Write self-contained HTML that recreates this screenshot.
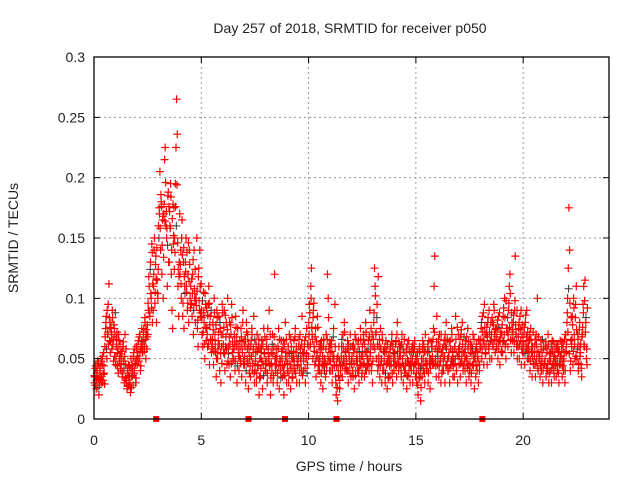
<!DOCTYPE html>
<html><head><meta charset="utf-8"><style>
body{margin:0;background:#fff}
svg{display:block;font-family:"Liberation Sans",sans-serif}
</style></head><body>
<svg id="chart" width="640" height="480" viewBox="0 0 640 480">
<text x="350" y="33" text-anchor="middle" font-size="14" fill="#222">Day 257 of 2018, SRMTID for receiver p050</text>
<text x="349" y="471" text-anchor="middle" font-size="14" fill="#222">GPS time / hours</text>
<text transform="translate(18,238) rotate(-90)" text-anchor="middle" font-size="14" fill="#222">SRMTID / TECUs</text>
<g id="grid"></g><g id="pts"></g><g id="axes"></g>
</svg>
<script>
const xTicks=[0,5,10,15,20];
const yTicks=[0,0.05,0.1,0.15,0.2,0.25,0.3];
const yTickLabels=["0","0.05","0.1","0.15","0.2","0.25","0.3"];
const binStart=0, binWidth=0.25;
const values=[
[30,35,42,25,38,48,33,20],[28,40,50,35,45,32,55,38],[60,75,85,50,70,95,112,65],[55,80,70,90,62,48,75,68],
[45,60,72,55,38,65,50,42],[40,52,35,60,48,30,70,45],[30,25,38,45,28,35,22,50],[35,42,28,55,38,48,30,60],
[45,55,65,50,70,40,60,75],[55,65,75,60,80,50,70,68],[70,90,110,85,130,100,145,80],[90,120,150,105,135,80,115,100],
[160,175,205,140,180,120,165,100],[170,215,225,160,150,110,185,130],[130,160,195,120,90,75,145,175],[150,195,225,265,236,110,85,130],
[120,140,100,165,85,130,75,110],[130,150,105,90,120,80,140,100],[110,95,85,120,70,140,100,80],[100,150,75,60,125,90,110,85],
[90,70,60,105,80,50,95,65],[75,60,95,110,45,85,65,55],[60,80,45,100,70,55,35,90],[50,65,85,40,75,30,60,95],
[70,55,90,40,60,80,45,100],[60,45,80,35,70,95,55,50],[50,70,40,85,60,30,75,55],[40,65,50,75,35,55,90,45],
[45,60,30,80,50,70,25,55],[50,35,65,75,40,55,85,30],[40,55,30,70,45,60,20,50],[35,50,65,25,45,75,55,40],
[40,60,30,75,50,90,45,20],[55,40,70,30,60,120,45,50],[45,30,60,75,25,50,40,65],[50,35,65,20,45,80,55,30],
[40,55,30,70,45,25,60,50],[35,50,65,40,75,55,30,45],[45,60,30,70,50,40,85,55],[40,55,65,30,50,75,45,60],
[80,95,60,110,125,70,50,90],[60,45,75,35,55,85,40,50],[40,55,30,65,45,25,60,50],[50,35,70,45,120,100,60,40],
[55,40,65,30,50,75,45,95],[35,20,50,15,40,60,25,45],[45,60,35,70,50,80,40,55],[50,40,65,30,55,45,70,35],
[45,60,35,55,25,70,40,50],[55,40,65,30,50,75,45,35],[60,45,70,35,55,80,40,50],[50,65,40,90,55,75,45,30],
[60,80,125,110,70,50,95,40],[45,60,35,75,50,30,65,40],[40,55,30,65,45,25,50,35],[50,35,60,45,70,30,55,40],
[55,45,65,35,80,50,40,60],[45,60,35,70,50,30,55,40],[40,55,25,50,35,65,45,30],[50,40,60,30,55,45,65,35],
[45,30,55,20,40,60,35,15],[50,35,65,40,55,30,70,45],[40,55,30,65,45,25,50,60],[60,45,75,110,135,50,35,85],
[45,60,35,70,50,30,55,40],[55,40,65,30,60,80,45,50],[40,55,30,65,45,75,50,35],[50,35,60,85,40,55,30,70],
[45,60,35,70,50,80,40,55],[55,40,65,30,50,75,45,35],[40,55,30,60,45,70,50,25],[50,35,60,40,55,30,65,45],
[60,75,50,85,65,45,95,70],[55,70,45,80,60,90,50,65],[65,50,80,60,95,70,55,75],[60,75,50,85,65,45,70,55],
[70,55,85,65,100,60,50,75],[75,60,90,110,120,65,55,80],[65,80,55,90,135,70,60,50],[60,75,50,85,65,45,70,55],
[55,70,45,80,60,90,50,65],[50,65,40,75,55,35,60,45],[45,60,35,70,50,100,40,55],[50,35,65,40,55,30,60,45],
[45,60,35,55,40,70,30,50],[40,55,30,65,45,50,35,60],[50,35,60,40,55,30,45,65],[45,60,35,50,40,55,30,70],
[55,80,100,125,175,140,40,65],[60,85,45,100,70,50,95,110],[50,70,40,60,80,55,45,35],[70,95,110,60,115,80,50,45]
];
const values2=[
[36,28,44,32,40,26,46,34],[42,33,48,30,52,37,44,29],[68,80,58,90,72,62,84,76],[64,72,58,84,66,78,52,88],
[52,66,44,58,70,48,62,54],[46,56,38,64,42,52,34,58],[32,40,27,36,44,30,42,26],[44,36,52,40,58,46,34,50],
[52,62,48,68,56,44,64,58],[62,72,56,84,66,74,58,78],[96,118,88,124,104,92,138,112],[110,140,96,128,116,142,104,124],
[150,170,158,186,176,144,168,134],[178,164,196,172,158,144,188,176],[172,158,184,140,166,178,152,124],[138,176,160,194,146,124,118,170],
[128,112,150,136,96,142,118,104],[122,110,138,96,146,114,128,92],[96,116,104,132,90,108,124,98],[94,106,82,118,98,140,88,112],
[84,98,72,88,62,104,76,92],[70,86,62,96,78,66,90,58],[66,74,56,88,62,78,50,84],[58,72,62,80,54,70,46,88],
[62,76,54,86,68,58,74,48],[54,68,62,78,46,84,64,58],[58,64,48,76,68,44,62,52],[52,58,46,68,60,80,48,64],
[52,66,40,72,58,46,62,38],[44,60,52,70,46,58,38,66],[48,62,38,56,44,66,34,58],[42,58,48,62,36,54,68,46],
[48,66,38,58,52,44,70,34],[46,62,54,36,68,50,40,58],[52,38,58,44,66,48,34,56],[44,58,40,62,36,52,66,48],
[46,60,38,54,66,42,52,34],[42,56,48,68,38,60,50,44],[52,66,40,58,48,62,36,54],[48,60,42,68,54,38,62,52],
[70,88,62,100,76,66,84,96],[56,68,48,64,52,76,44,60],[48,62,38,58,52,44,66,40],[46,58,40,66,52,84,48,62],
[48,62,56,40,68,52,44,60],[30,44,26,52,36,48,32,40],[52,66,44,60,48,72,56,42],[46,58,40,62,52,38,60,48],
[52,40,62,46,58,36,66,48],[48,62,40,56,44,66,52,38],[52,66,46,62,40,72,56,44],[58,46,68,52,62,40,70,48],
[66,88,58,102,72,84,62,118],[52,66,44,58,48,70,40,56],[48,60,38,56,46,62,34,52],[44,58,50,64,38,60,48,54],
[50,62,44,70,56,46,64,52],[52,40,62,46,58,44,66,38],[46,58,36,62,48,40,56,44],[44,56,50,62,40,58,46,52],
[38,50,28,46,34,56,42,26],[44,58,50,62,38,56,48,42],[46,60,38,56,50,42,64,48],[52,66,46,72,58,44,64,56],
[52,66,44,60,48,70,38,58],[48,62,52,70,44,58,66,40],[52,64,42,58,48,70,56,44],[46,60,50,66,40,76,52,58],
[52,66,46,74,56,62,44,68],[48,60,52,68,42,58,64,40],[46,62,38,54,58,44,66,50],[56,44,62,52,48,66,40,58],
[66,80,58,72,88,62,76,54],[62,76,68,84,58,72,64,80],[70,84,62,78,90,66,74,58],[68,82,60,76,88,64,72,56],
[78,64,92,70,84,62,98,72],[84,70,96,76,104,66,88,74],[72,86,64,98,78,68,90,62],[68,80,62,74,90,58,78,64],
[62,76,54,86,68,58,72,60],[56,70,48,66,60,52,72,46],[52,66,46,62,56,42,68,50],[52,44,60,48,66,40,58,46],
[50,64,42,58,46,62,38,54],[48,60,42,56,64,40,52,46],[44,58,50,62,38,56,48,52],[52,64,44,60,48,66,40,56],
[62,88,72,108,54,96,48,84],[66,78,56,92,62,84,52,74],[58,66,46,74,52,62,42,68],[76,88,62,98,72,84,58,92]
];
const gapTimes=[2.9,7.2,8.9,11.3,18.1];
const L=94,R=609,T=57,B=419,XMAX=24,YMAX=0.3;
const sx=h=>L+h/XMAX*(R-L), sy=v=>B-v/YMAX*(B-T);
const NS="http://www.w3.org/2000/svg";
function mk(t,a,p){const e=document.createElementNS(NS,t);for(const k in a)e.setAttribute(k,a[k]);p.appendChild(e);return e;}
const grid=document.getElementById('grid'),pts=document.getElementById('pts'),axes=document.getElementById('axes');
yTicks.forEach((v,i)=>{
 if(i>0&&i<yTicks.length-1){const g=mk('line',{x1:L,x2:R,y1:sy(v),y2:sy(v),stroke:'#999','stroke-dasharray':'2,3'},grid);
 
 }
 const t=mk('text',{x:L-9,y:sy(v)+5,'text-anchor':'end','font-size':14,fill:'#222'},axes);t.textContent=yTickLabels[i];
 
 
 mk('line',{x1:L,x2:L+6,y1:sy(v),y2:sy(v),stroke:'#000'},axes);mk('line',{x1:R,x2:R-6,y1:sy(v),y2:sy(v),stroke:'#000'},axes);
});
xTicks.forEach(h=>{
 if(h>0){const g=mk('line',{x1:sx(h),x2:sx(h),y1:T,y2:B,stroke:'#999','stroke-dasharray':'2,3'},grid);
 
 }
 const t=mk('text',{x:sx(h),y:B+26,'text-anchor':'middle','font-size':14,fill:'#222'},axes);t.textContent=h;
 
 
 mk('line',{x1:sx(h),x2:sx(h),y1:B,y2:B-6,stroke:'#000'},axes);mk('line',{x1:sx(h),x2:sx(h),y1:T,y2:T+6,stroke:'#000'},axes);
});
let dR='',dK='';
function addSeries(arr,off){arr.forEach((bin,b)=>{bin.forEach((v,i)=>{
 const x=sx(binStart+b*binWidth+((i+off)/bin.length)*binWidth), y=sy(v/1000);
 const s=`M${(x-4).toFixed(1)} ${y.toFixed(1)}h8M${x.toFixed(1)} ${(y-4).toFixed(1)}v8`;
 if(off>0.5&&(b*8+i)%13===5) dK+=s; else dR+=s;
});});}
addSeries(values,0.25);
addSeries(values2,0.75);
const pk=mk('path',{d:dK,stroke:'#333','stroke-width':1,fill:'none'},pts);


const pr=mk('path',{d:dR,stroke:'#f00','stroke-width':1.2,fill:'none'},pts);


gapTimes.forEach(h=>{const r=mk('rect',{x:sx(h)-3,y:B-3,width:6,height:6,fill:'#f00'},axes);
 
 });
const f=mk('rect',{x:L,y:T,width:R-L,height:B-T,fill:'none',stroke:'#000','stroke-width':1.3},axes);


</script>
</body></html>
